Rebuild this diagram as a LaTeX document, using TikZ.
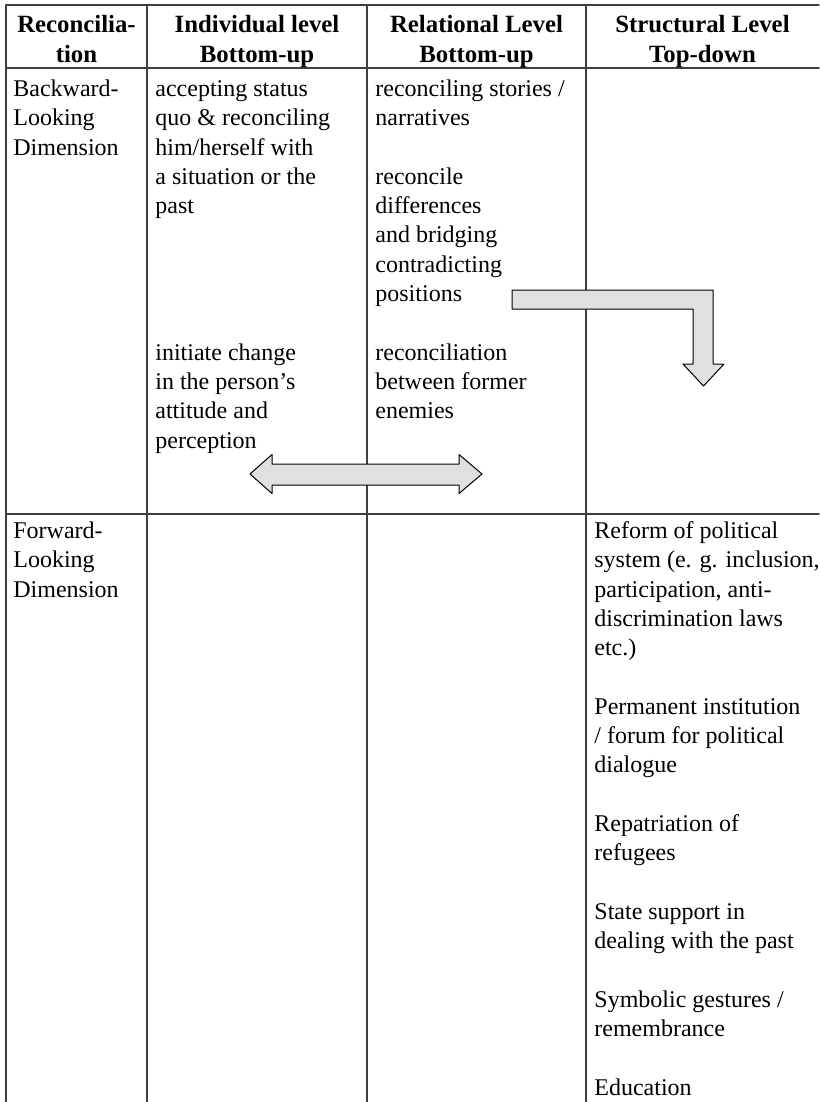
\documentclass[tikz,border=0pt]{standalone}
\usepackage{fontspec}
\setmainfont{Liberation Serif}
\usepackage{tkz-euclide}
\definecolor{rulegray}{gray}{0.25}
\definecolor{arrowfill}{gray}{0.88}
\tikzset{
    cell/.style={anchor=north west,inner sep=0pt,align=left,
        font=\fontsize{12}{14.65}\selectfont},
    head/.style={anchor=north,inner sep=0pt,align=center,
        font=\fontsize{12.4}{15}\selectfont\bfseries}
}

\begin{document}
\begin{tikzpicture}[x=.5pt,y=-.5pt]
    \useasboundingbox (0,0) rectangle (819,1102);
    \tkzDefPoint(6,5){A1}
    \tkzDefPoint(819,5){B1}
    \tkzDefPoint(6,68){A2}
    \tkzDefPoint(819,68){B2}
    \tkzDefPoint(6,514){A3}
    \tkzDefPoint(819,514){B3}
    \tkzDefPoint(6,1102){A4}
    \tkzDefPoint(147,5){C1}
    \tkzDefPoint(147,1102){D1}
    \tkzDefPoint(367,5){C2}
    \tkzDefPoint(367,1102){D2}
    \tkzDefPoint(586,5){C3}
    \tkzDefPoint(586,1102){D3}
    \tkzDrawSegments[line width=.7pt,color=rulegray](A1,B1 A2,B2 A3,B3 A1,A4 C1,D1 C2,D2 C3,D3)
    \tkzDefPoint(250,474){M1}
    \tkzDefPoint(272,454.5){M2}
    \tkzDefPoint(272,464){M3}
    \tkzDefPoint(459,464){M4}
    \tkzDefPoint(459,454.5){M5}
    \tkzDefPoint(482,474){M6}
    \tkzDefPoint(459,493.5){M7}
    \tkzDefPoint(459,485){M8}
    \tkzDefPoint(272,485){M9}
    \tkzDefPoint(272,493.5){M10}
    \tkzFillPolygon[fill=arrowfill](M1,M2,M3,M4,M5,M6,M7,M8,M9,M10)
    \tkzDrawPolygon[line width=.5pt](M1,M2,M3,M4,M5,M6,M7,M8,M9,M10)
    \tkzDefPoint(512,290){N1}
    \tkzDefPoint(713,290){N2}
    \tkzDefPoint(713,364){N3}
    \tkzDefPoint(724,364){N4}
    \tkzDefPoint(703.5,386){N5}
    \tkzDefPoint(683,364){N6}
    \tkzDefPoint(693,364){N7}
    \tkzDefPoint(693,309){N8}
    \tkzDefPoint(512,309){N9}
    \tkzFillPolygon[fill=arrowfill](N1,N2,N3,N4,N5,N6,N7,N8,N9)
    \tkzDrawPolygon[line width=.5pt](N1,N2,N3,N4,N5,N6,N7,N8,N9)
    \node[head] (h1) at (76.5,11.5) {\strut Reconcilia-\\tion};
    \node[head] (h2) at (257,11.5) {\strut Individual level\\Bottom-up};
    \node[head] (h3) at (476.5,11.5) {\strut Relational Level\\Bottom-up};
    \node[head] (h4) at (702.5,11.5) {\strut Structural Level\\Top-down};
    \node[cell] (b1) at (13,75.5) {\strut Backward-\\Looking\\Dimension};
    \node[cell] (b2a) at (155,75.5) {\strut accepting status\\quo \& reconciling\\him/herself with\\a situation or the\\past};
    \node[cell] (b2b) at (155,339.2) {\strut initiate change\\in the person’s\\attitude and\\perception};
    \node[cell] (b3a) at (375,75.5) {\strut reconciling stories /\\narratives};
    \node[cell] (b3b) at (375,163.4) {\strut reconcile\\differences\\and bridging\\contradicting\\positions};
    \node[cell] (b3c) at (375,339.2) {\strut reconciliation\\between former\\enemies};
    \node[cell] (f1) at (13,517.5) {\strut Forward-\\Looking\\Dimension};
    \node[cell] (f4a) at (594,517.5) {\strut Reform of political\\system (e. g. inclusion,\\participation, anti-\\discrimination laws\\etc.)};
    \node[cell] (f4b) at (594,693.3) {\strut Permanent institution\\/ forum for political\\dialogue};
    \node[cell] (f4c) at (594,810.5) {\strut Repatriation of\\refugees};
    \node[cell] (f4d) at (594,898.4) {\strut State support in\\dealing with the past};
    \node[cell] (f4e) at (594,986.3) {\strut Symbolic gestures /\\remembrance};
    \node[cell] (f4f) at (594,1074.2) {\strut Education};
\end{tikzpicture}
\end{document}
